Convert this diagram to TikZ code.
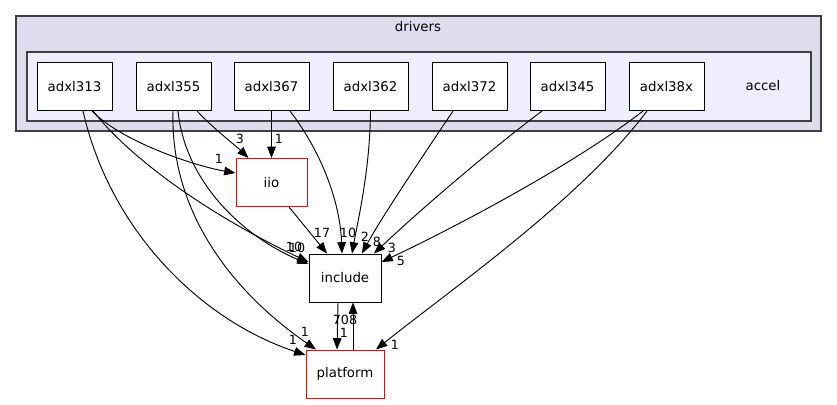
\documentclass[tikz,border=0pt]{standalone}
\usepackage{fontspec}
\setmainfont{DejaVu Sans}
\usetikzlibrary{calc,arrows.meta}
\definecolor{outerfill}{HTML}{DDDDEE}
\definecolor{innerfill}{HTML}{EEEEFF}
\definecolor{bordergray}{HTML}{404040}
\tikzset{
  dirbox/.style={draw=black, fill=white, line width=0.75pt, minimum width=56.25pt, minimum height=36pt, inner sep=0pt, font=\fontsize{10}{12}\selectfont},
  extbox/.style={draw=red, fill=white, line width=0.75pt, minimum height=36pt, inner sep=0pt, font=\fontsize{10}{12}\selectfont},
  dep/.style={draw=black, line width=0.7pt, -{Triangle[length=8.5pt,width=6.5pt]}},
  lbl/.style={inner sep=0pt, font=\fontsize{9.5}{11}\selectfont},
  clusterbox/.style={draw=bordergray, line width=0.9pt}
}
\begin{document}
\begin{tikzpicture}[x=0.75pt,y=-0.75pt]
\useasboundingbox (0,0) rectangle (837,404);
% clusters
\draw[clusterbox, fill=outerfill] (16,16) rectangle (821,131);
\node[font=\fontsize{10}{12}\selectfont] (driverslbl) at (418,27) {drivers};
\draw[clusterbox, fill=innerfill] (27,52) rectangle (811,121);
\node[font=\fontsize{10}{12}\selectfont] (accellbl) at (763,86) {accel};
% nodes
\node[dirbox] (a313) at (74.5,86.5) {adxl313};
\node[dirbox] (a355) at (173.5,86.5) {adxl355};
\node[dirbox] (a367) at (271.5,86.5) {adxl367};
\node[dirbox] (a362) at (370.5,86.5) {adxl362};
\node[dirbox] (a372) at (469.5,86.5) {adxl372};
\node[dirbox] (a345) at (567.5,86.5) {adxl345};
\node[dirbox] (a38x) at (666.5,86.5) {adxl38x};
\node[extbox, minimum width=53.25pt] (iio) at (271.5,182.5) {iio};
\node[dirbox, minimum width=54pt] (include) at (345,278) {include};
\node[extbox, minimum width=58.5pt] (platform) at (345,374) {platform};
% edges
\draw[dep] ($(a313.south)+(17.5,0)$) .. controls (120,140) and (190,165) .. ($(iio.west)+(0,-9.5)$);
\draw[dep] ($(a313.south)+(18.5,0)$) .. controls (140,170) and (230,225) .. ($(include.west)+(0,-16)$);
\draw[dep] ($(a313.south)+(8.5,0)$) .. controls (110,230) and (200,320) .. ($(platform.west)+(0,-19)$);
\draw[dep] ($(a355.south)+(23.5,0)$) .. controls (215,130) and (235,145) .. ($(iio.north)+(-23,0)$);
\draw[dep] ($(a355.south)+(4.5,0)$) .. controls (185,180) and (240,235) .. ($(include.west)+(0,-14)$);
\draw[dep] ($(a355.south)+(-0.5,0)$) .. controls (170,210) and (230,290) .. ($(platform.north)+(-29,0)$);
\draw[dep] (a367.south) -- (iio.north);
\draw[dep] ($(a367.south)+(18.5,0)$) .. controls (320,150) and (340,200) .. ($(include.north)+(-3,0)$);
\draw[dep] (a362.south) .. controls (370,170) and (358,220) .. ($(include.north)+(7,0)$);
\draw[dep] ($(a372.south)+(-16.5,0)$) .. controls (420,160) and (380,220) .. ($(include.north)+(17,0)$);
\draw[dep] ($(a345.south)+(-25.5,0)$) .. controls (490,150) and (420,210) .. ($(include.north)+(29,0)$);
\draw[dep] ($(a38x.south)+(-23.5,0)$) .. controls (580,160) and (470,220) .. ($(include.east)+(0,-16)$);
\draw[dep] ($(a38x.south)+(-19.5,0)$) .. controls (580,200) and (450,290) .. ($(platform.north)+(31,0)$);
\draw[dep] ($(iio.south)+(17.5,0)$) -- ($(include.north)+(-18,0)$);
\draw[dep] ($(include.south)+(-7,0)$) -- ($(platform.north)+(-8,0)$);
\draw[dep] ($(platform.north)+(8,0)$) -- ($(include.south)+(8,0)$);
% labels
\node[lbl] (l1) at (219,159) {1};
\node[lbl] (l2) at (240,139) {3};
\node[lbl] (l3) at (279,139) {1};
\node[lbl] (l4) at (294,247) {10};
\node[lbl] (l5) at (297,248) {10};
\node[lbl] (l6) at (322,233) {17};
\node[lbl] (l7) at (348,233) {10};
\node[lbl] (l8) at (365,237) {2};
\node[lbl] (l9) at (377,242) {8};
\node[lbl] (l10) at (392,248) {3};
\node[lbl] (l11) at (401,261) {5};
\node[lbl] (l12) at (293,340) {1};
\node[lbl] (l13) at (305,332) {1};
\node[lbl] (l14) at (344,333) {1};
\node[lbl] (l15) at (345,320) {708};
\node[lbl] (l16) at (395,345) {1};
\end{tikzpicture}
\end{document}
